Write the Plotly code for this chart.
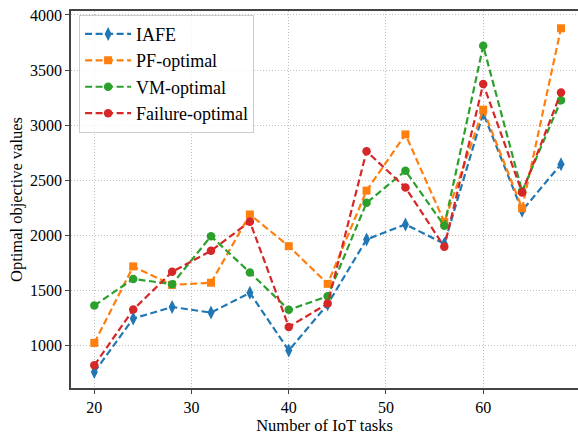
import plotly.graph_objects as go

tasks = [20, 24, 28, 32, 36, 40, 44, 48, 52, 56, 60, 64, 68]
iafe = [757, 1243, 1348, 1297, 1476, 952, 1372, 1961, 2098, 1922, 3108, 2222, 2645]
pf_optimal = [1021, 1716, 1548, 1568, 2188, 1900, 1558, 2405, 2915, 2120, 3140, 2245, 3879]
vm_optimal = [1361, 1603, 1555, 1991, 1661, 1322, 1445, 2294, 2585, 2085, 3720, 2398, 3225]
failure_optimal = [818, 1324, 1667, 1858, 2123, 1167, 1379, 2762, 2433, 1894, 3373, 2387, 3295]

series = [
    ("IAFE", iafe, "#1f77b4", "diamond-tall", 10),
    ("PF-optimal", pf_optimal, "#ff7f0e", "square", 8),
    ("VM-optimal", vm_optimal, "#2ca02c", "circle", 8.5),
    ("Failure-optimal", failure_optimal, "#d62728", "circle", 8.5),
]

FONT = "Liberation Serif"

fig = go.Figure()
for i, (name, vals, color, sym, size) in enumerate(series):
    fig.add_trace(go.Scatter(
        x=tasks, y=vals, name=name, mode="lines+markers",
        line=dict(color=color, width=2.2, dash="7px,3.5px"),
        marker=dict(color=color, symbol=sym, size=size, line=dict(width=0)),
        legendgroup=f"g{i}",
    ))

grid = "rgba(176,176,176,0.8)"
fig.update_layout(
    width=578, height=435,
    margin=dict(l=71, r=0, t=11, b=47),
    paper_bgcolor="white", plot_bgcolor="white",
    font=dict(family=FONT, color="black", size=15),
    showlegend=True,
    legend=dict(
        x=0.016, y=0.99, xanchor="left", yanchor="top",
        font=dict(family=FONT, size=18, color="black"),
        bgcolor="rgba(255,255,255,0.8)", bordercolor="#cccccc", borderwidth=1,
        tracegroupgap=0, itemwidth=46,
    ),
    xaxis=dict(
        range=[17.6, 69.75],
        tickvals=[20, 30, 40, 50, 60],
        showgrid=True, gridcolor=grid, griddash="1px,2px", gridwidth=1,
        zeroline=False,
        showline=True, linecolor="#444444", linewidth=1.5, mirror=True,
        ticks="outside", ticklen=4, tickcolor="#444444", tickwidth=1,
        tickfont=dict(family=FONT, size=16, color="black"),
        title=dict(text="Number of IoT tasks", font=dict(family=FONT, size=16.5, color="black"), standoff=6),
    ),
    yaxis=dict(
        range=[612, 4036],
        tickvals=[1000, 1500, 2000, 2500, 3000, 3500, 4000],
        showgrid=True, gridcolor=grid, griddash="1px,2px", gridwidth=1,
        zeroline=False,
        showline=True, linecolor="#444444", linewidth=1.5,
        ticks="outside", ticklen=4, tickcolor="#444444", tickwidth=1,
        tickfont=dict(family=FONT, size=16, color="black"),
        title=dict(text="Optimal objective values", font=dict(family=FONT, size=16.5, color="black"), standoff=3),
    ),
)

fig.write_html("out.html")
